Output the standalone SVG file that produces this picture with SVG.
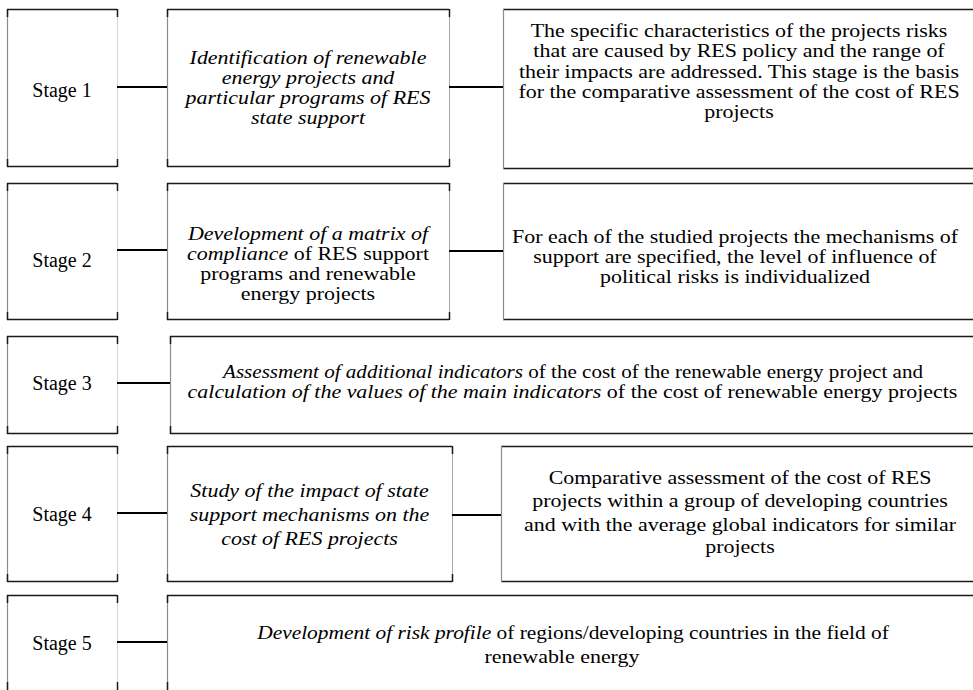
<svg xmlns="http://www.w3.org/2000/svg" width="973" height="690" viewBox="0 0 973 690">
<style>
.t{font-family:"Liberation Serif","Times New Roman",serif;font-size:18px;fill:#000;text-anchor:middle}
.s{font-family:"Liberation Serif","Times New Roman",serif;font-size:20px;fill:#000;text-anchor:middle}
.i{font-style:italic}
.h{stroke:#1a1a1a;stroke-width:1.5;fill:none}
.v{stroke:#8c8c8c;stroke-width:1.2;fill:none}
.vl{stroke:#d6d6d6;stroke-width:1;fill:none}
.vm{stroke:#a8a8a8;stroke-width:1;fill:none}
.tk{stroke:#1a1a1a;stroke-width:1.5;fill:none}
.c{stroke:#000;stroke-width:2;fill:none}
</style>
<rect width="973" height="690" fill="#fff"/>

<g id="stage1">
<path class="h" d="M7 9.5H117M7 166.5H117"/><path class="v" d="M7.5 9V167"/><path class="vl" d="M117.5 9V167"/>
<path class="tk" d="M7.5 9v8M7.5 167v-8M117.5 9v8M117.5 167v-8"/>
<text class="s" x="62" y="96.5">Stage 1</text>
</g>
<g id="task1">
<path class="h" d="M167 9.5H449M167 166.5H449"/><path class="v" d="M167.5 9V167"/><path class="vm" d="M449.5 9V167"/>
<path class="tk" d="M167.5 9v8M167.5 167v-8M449.5 9v8M449.5 167v-8"/>
<text class="t i" transform="translate(308 63.5) scale(1.22 1)">Identification of renewable</text>
<text class="t i" transform="translate(308 83.8) scale(1.22 1)">energy projects and</text>
<text class="t i" transform="translate(308 104) scale(1.22 1)">particular programs of RES</text>
<text class="t i" transform="translate(308 124) scale(1.22 1)">state support</text>
</g>
<g id="result1">
<path class="h" d="M503 9.5H975M503 168.5H975"/><path class="v" d="M503.5 9V169"/>
<text class="t" transform="translate(739 37) scale(1.22 1)">The specific characteristics of the projects risks</text>
<text class="t" transform="translate(739 57.3) scale(1.22 1)">that are caused by RES policy and the range of</text>
<text class="t" transform="translate(739 77.5) scale(1.22 1)">their impacts are addressed. This stage is the basis</text>
<text class="t" transform="translate(739 97.7) scale(1.22 1)">for the comparative assessment of the cost of RES</text>
<text class="t" transform="translate(739 117.8) scale(1.22 1)">projects</text>
</g>

<g id="stage2">
<path class="h" d="M7 183.5H117M7 319.5H117"/><path class="v" d="M7.5 183V320"/><path class="vl" d="M117.5 183V320"/>
<path class="tk" d="M7.5 183v8M7.5 320v-8M117.5 183v8M117.5 320v-8"/>
<text class="s" x="62" y="266.5">Stage 2</text>
</g>
<g id="task2">
<path class="h" d="M167 183.5H449M167 319.5H449"/><path class="v" d="M167.5 183V320"/><path class="vm" d="M449.5 183V320"/>
<path class="tk" d="M167.5 183v8M167.5 320v-8M449.5 183v8M449.5 320v-8"/>
<text class="t" transform="translate(308 240) scale(1.22 1)"><tspan class="i">Development of a matrix of</tspan></text>
<text class="t" transform="translate(308 260) scale(1.22 1)"><tspan class="i">compliance</tspan> of RES support</text>
<text class="t" transform="translate(308 280) scale(1.22 1)">programs and renewable</text>
<text class="t" transform="translate(308 300) scale(1.22 1)">energy projects</text>
</g>
<g id="result2">
<path class="h" d="M503 183.5H975M503 319.5H975"/><path class="v" d="M503.5 183V320"/>
<text class="t" transform="translate(735 243) scale(1.22 1)">For each of the studied projects the mechanisms of</text>
<text class="t" transform="translate(735 263) scale(1.22 1)">support are specified, the level of influence of</text>
<text class="t" transform="translate(735 283) scale(1.22 1)">political risks is individualized</text>
</g>

<g id="stage3">
<path class="h" d="M7 336.5H117M7 433.5H117"/><path class="v" d="M7.5 336V434"/><path class="vl" d="M117.5 336V434"/>
<path class="tk" d="M7.5 336v8M7.5 434v-8M117.5 336v8M117.5 434v-8"/>
<text class="s" x="62" y="390">Stage 3</text>
</g>
<g id="task3">
<path class="h" d="M170 336.5H975M170 433.5H975"/><path class="v" d="M170.5 336V434"/>
<path class="tk" d="M170.5 336v8M170.5 434v-8"/>
<text class="t" transform="translate(573 377.5) scale(1.17 1)"><tspan class="i">Assessment of additional indicators</tspan> of the cost of the renewable energy project and</text>
<text class="t" transform="translate(572.5 397.5) scale(1.22 1)"><tspan class="i">calculation of the values of the main indicators</tspan> of the cost of renewable energy projects</text>
</g>

<g id="stage4">
<path class="h" d="M7 446.5H117M7 581.5H117"/><path class="v" d="M7.5 446V582"/><path class="vl" d="M117.5 446V582"/>
<path class="tk" d="M7.5 446v8M7.5 582v-8M117.5 446v8M117.5 582v-8"/>
<text class="s" x="62" y="521">Stage 4</text>
</g>
<g id="task4">
<path class="h" d="M167 446.5H452M167 581.5H452"/><path class="v" d="M167.5 446V582"/><path class="vm" d="M452.5 446V582"/>
<path class="tk" d="M167.5 446v8M167.5 582v-8M452.5 446v8M452.5 582v-8"/>
<text class="t i" transform="translate(309.5 497) scale(1.22 1)">Study of the impact of state</text>
<text class="t i" transform="translate(309.5 521) scale(1.22 1)">support mechanisms on the</text>
<text class="t i" transform="translate(309.5 545) scale(1.22 1)">cost of RES projects</text>
</g>
<g id="result4">
<path class="h" d="M501 446.5H975M501 581.5H975"/><path class="v" d="M501.5 446V582"/>
<text class="t" transform="translate(740 484) scale(1.22 1)">Comparative assessment of the cost of RES</text>
<text class="t" transform="translate(740 507) scale(1.22 1)">projects within a group of developing countries</text>
<text class="t" transform="translate(740 531) scale(1.22 1)">and with the average global indicators for similar</text>
<text class="t" transform="translate(740 553) scale(1.22 1)">projects</text>
</g>

<g id="stage5">
<path class="h" d="M7 595.5H117"/><path class="v" d="M7.5 595V700"/><path class="vl" d="M117.5 595V700"/>
<path class="tk" d="M7.5 595v8M117.5 595v8M7.5 690v-8M117.5 690v-8"/>
<text class="s" x="62" y="650">Stage 5</text>
</g>
<g id="task5">
<path class="h" d="M167 595.5H975"/><path class="v" d="M167.5 595V700"/>
<path class="tk" d="M167.5 595v8M167.5 690v-8"/>
<text class="t" transform="translate(573 638.5) scale(1.19 1)"><tspan class="i">Development of risk profile</tspan> of regions/developing countries in the field of</text>
<text class="t" transform="translate(562 662.5) scale(1.22 1)">renewable energy</text>
</g>

<g id="connectors">
<path class="c" d="M117 87H167M449 87H503"/>
<path class="c" d="M117 250H167M449 251H503"/>
<path class="c" d="M117 383H170"/>
<path class="c" d="M117 513H167M452 515H501"/>
<path class="c" d="M117 642H167"/>
</g>
</svg>
